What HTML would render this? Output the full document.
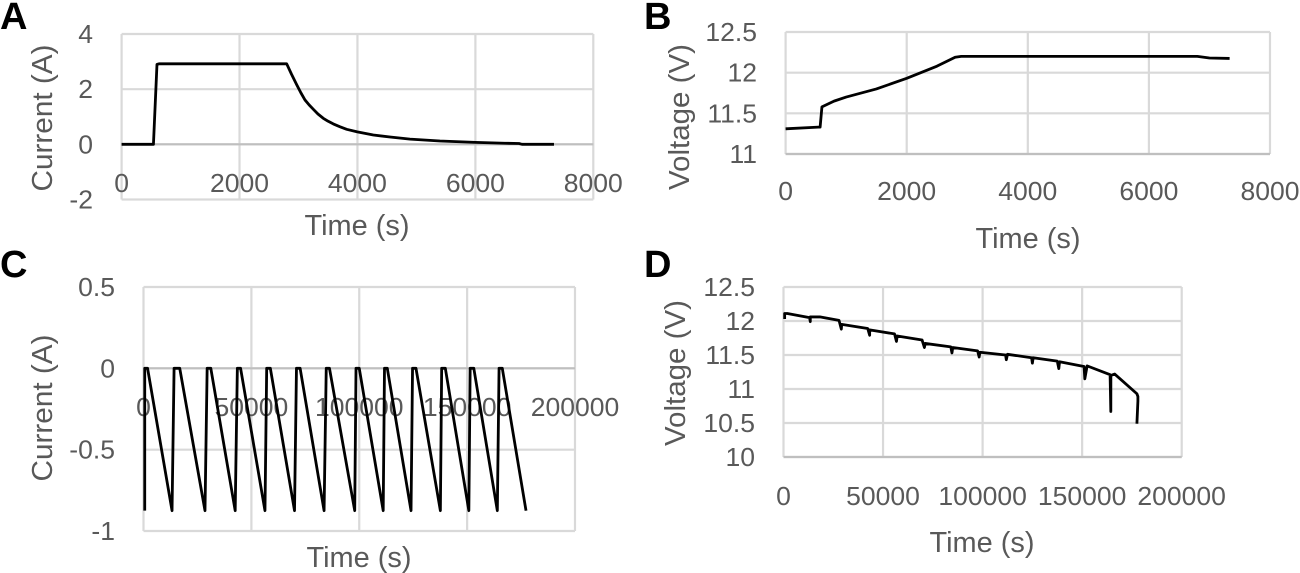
<!DOCTYPE html>
<html lang="en">
<head>
<meta charset="utf-8">
<title>Current and voltage charts</title>
<style>
html,body{margin:0;padding:0;background:#fff;width:1300px;height:573px;overflow:hidden}
svg{display:block}
text{font-family:"Liberation Sans",sans-serif;fill:#595959}
.letter{font-size:38px;font-weight:bold;fill:#000}
.tick{font-size:26px}
.title{font-size:29px}
</style>
</head>
<body>
<svg id="fig" width="1300" height="573" viewBox="0 0 1300 573" xmlns="http://www.w3.org/2000/svg">
<text class="letter" x="0" y="29">A</text>
<text class="letter" x="644" y="29">B</text>
<text class="letter" x="0" y="277">C</text>
<text class="letter" x="644" y="277">D</text>
<text class="title" x="357" y="235" text-anchor="middle" textLength="105" lengthAdjust="spacingAndGlyphs">Time (s)</text>
<text class="title" transform="translate(52,118) rotate(-90)" text-anchor="middle" textLength="147" lengthAdjust="spacingAndGlyphs">Current (A)</text>
<text class="title" x="1028" y="248" text-anchor="middle" textLength="105" lengthAdjust="spacingAndGlyphs">Time (s)</text>
<text class="title" transform="translate(689,117) rotate(-90)" text-anchor="middle" textLength="146" lengthAdjust="spacingAndGlyphs">Voltage (V)</text>
<text class="title" x="359" y="567" text-anchor="middle" textLength="105" lengthAdjust="spacingAndGlyphs">Time (s)</text>
<text class="title" transform="translate(52,408) rotate(-90)" text-anchor="middle" textLength="147" lengthAdjust="spacingAndGlyphs">Current (A)</text>
<text class="title" x="982" y="552" text-anchor="middle" textLength="105" lengthAdjust="spacingAndGlyphs">Time (s)</text>
<text class="title" transform="translate(685,373) rotate(-90)" text-anchor="middle" textLength="146" lengthAdjust="spacingAndGlyphs">Voltage (V)</text>
</svg>
<script>
const xTicksShort = [0, 2000, 4000, 6000, 8000];
const xTicksLong = [0, 50000, 100000, 150000, 200000];
const yTicksA = [-2, 0, 2, 4];
const yTicksB = [11, 11.5, 12, 12.5];
const yTicksC = [-1, -0.5, 0, 0.5];
const yTicksD = [10, 10.5, 11, 11.5, 12, 12.5];

const timeA = [0, 540, 600, 640, 2760, 2800, 2880, 2970, 3040, 3110, 3180, 3252, 3330, 3420, 3500, 3590, 3700, 3817, 3998, 4270, 4552, 4891, 5400, 6000, 6500, 6740, 6790, 7333];
const currentA = [0, 0, 2.9, 2.92, 2.92, 2.92, 2.55, 2.16, 1.87, 1.61, 1.43, 1.27, 1.1, 0.945, 0.84, 0.74, 0.64, 0.545, 0.45, 0.34, 0.265, 0.19, 0.12, 0.07, 0.04, 0.03, 0, 0];

const timeB = [0, 540, 570, 600, 800, 1000, 1500, 2000, 2500, 2800, 2900, 6800, 7000, 7333];
const voltageB = [11.31, 11.33, 11.33, 11.58, 11.65, 11.7, 11.8, 11.93, 12.08, 12.19, 12.2, 12.2, 12.18, 12.175];

const timeC = [570, 570, 1890, 13230, 14175, 16800, 28500, 29500, 31200, 42500, 43500, 45000, 56300, 57100, 58800, 70000, 70900, 72600, 83700, 84700, 86200, 97900, 98500, 100000, 111100, 111700, 113000, 124000, 124700, 126300, 137600, 138200, 139900, 150800, 151400, 153100, 164000, 164800, 166300, 177300];
const currentC = [-0.875, 0, 0, -0.875, 0, 0, -0.875, 0, 0, -0.875, 0, 0, -0.875, 0, 0, -0.875, 0, 0, -0.875, 0, 0, -0.875, 0, 0, -0.875, 0, 0, -0.875, 0, 0, -0.875, 0, 0, -0.875, 0, 0, -0.875, 0, 0, -0.875];

const timeD = [580, 580, 1920, 13080, 13460, 13460, 18270, 27880, 29040, 29230, 42300, 43270, 43270, 55770, 56730, 57110, 69610, 70770, 71150, 84030, 84610, 85000, 97500, 98270, 98650, 111530, 111920, 112500, 124600, 125000, 125380, 137500, 138270, 138650, 150960, 151340, 152500, 164040, 164400, 164420, 166340, 177500, 178000, 178000, 177500];
const voltageD = [12.03, 12.11, 12.11, 12.05, 11.99, 12.06, 12.06, 12.01, 11.88, 11.95, 11.89, 11.79, 11.87, 11.81, 11.7, 11.78, 11.72, 11.61, 11.67, 11.62, 11.53, 11.61, 11.56, 11.47, 11.54, 11.5, 11.43, 11.51, 11.46, 11.38, 11.46, 11.41, 11.3, 11.4, 11.33, 11.15, 11.34, 11.21, 10.67, 11.2, 11.22, 10.93, 10.89, 10.82, 10.49];

const NS = 'http://www.w3.org/2000/svg';
const fig = document.getElementById('fig');

function add(tag, attrs) {
  const el = document.createElementNS(NS, tag);
  for (const k in attrs) el.setAttribute(k, attrs[k]);
  fig.appendChild(el);
  return el;
}

function drawChart(p, xTicks, yTicks, xs, ys) {
  const xMin = xTicks[0], xMax = xTicks[xTicks.length - 1];
  const yMin = yTicks[0], yMax = yTicks[yTicks.length - 1];
  const sx = v => p.left + (v - xMin) / (xMax - xMin) * (p.right - p.left);
  const sy = v => p.bottom - (v - yMin) / (yMax - yMin) * (p.bottom - p.top);

  xTicks.forEach(t => {
    const line = add('line', {x1: sx(t), x2: sx(t), y1: p.top, y2: p.bottom, stroke: '#d9d9d9', 'stroke-width': 2.2});
    
    
  });
  yTicks.forEach(t => {
    const line = add('line', {x1: p.left, x2: p.right, y1: sy(t), y2: sy(t), stroke: '#d9d9d9', 'stroke-width': 2.2});
    
    
  });

  const base = yMin < 0 ? 0 : yMin;
  const axis = add('line', {x1: p.left, x2: p.right, y1: sy(base), y2: sy(base), stroke: '#bfbfbf', 'stroke-width': 2.2});
  
  

  xTicks.forEach(t => {
    const label = add('text', {class: 'tick', x: sx(t), y: p.xLabelY, 'text-anchor': 'middle', lengthAdjust: 'spacingAndGlyphs'});
    label.textContent = String(t);
    label.setAttribute('textLength', label.getComputedTextLength() * 1.02);
    
    
  });
  yTicks.forEach(t => {
    const label = add('text', {class: 'tick', x: p.yLabelX, y: sy(t) + 9, 'text-anchor': 'end', lengthAdjust: 'spacingAndGlyphs'});
    label.textContent = String(t);
    label.setAttribute('textLength', label.getComputedTextLength() * 1.02);
    
    
  });

  const d = xs.map((x, i) => (i ? 'L' : 'M') + sx(x).toFixed(2) + ' ' + sy(ys[i]).toFixed(2)).join(' ');
  const path = add('path', {d: d, fill: 'none', stroke: '#000', 'stroke-width': p.width, 'stroke-linejoin': 'round'});
  
  
}

drawChart({left: 121.6, right: 593.3, top: 34, bottom: 199.5, xLabelY: 192, yLabelX: 93, width: 2.8}, xTicksShort, yTicksA, timeA, currentA);
drawChart({left: 785.6, right: 1270, top: 32, bottom: 154, xLabelY: 200, yLabelX: 757, width: 2.8}, xTicksShort, yTicksB, timeB, voltageB);
drawChart({left: 143.5, right: 575, top: 287, bottom: 531, xLabelY: 416, yLabelX: 115, width: 2.8}, xTicksLong, yTicksC, timeC, currentC);
drawChart({left: 783.5, right: 1181.7, top: 287, bottom: 457, xLabelY: 505, yLabelX: 755, width: 2.8}, xTicksLong, yTicksD, timeD, voltageD);
</script>
</body>
</html>
